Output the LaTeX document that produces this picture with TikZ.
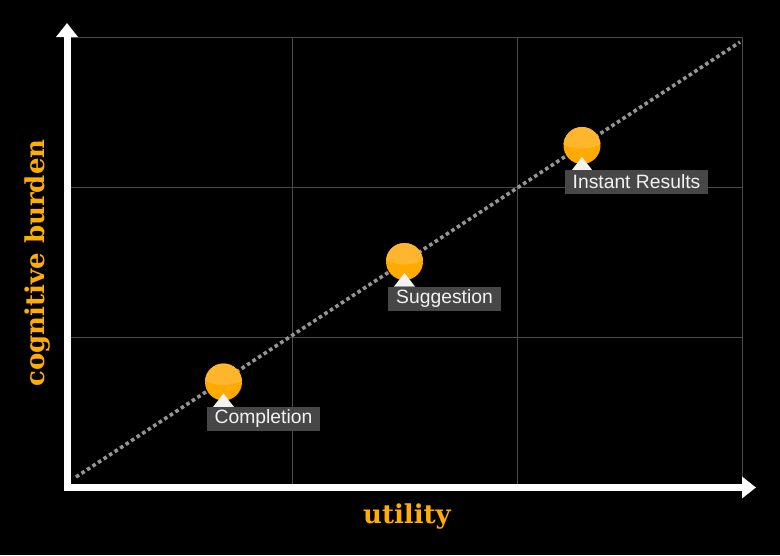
\documentclass[tikz,border=0pt]{standalone}
\usepackage{fontspec}
\usetikzlibrary{arrows.meta,calc}
\newfontfamily\labfont{Liberation Sans}
\newfontfamily\slabfont{DejaVu Serif}
\definecolor{gridc}{HTML}{4A4A4A}
\definecolor{dotc}{HTML}{959595}
\definecolor{orbc}{HTML}{FFAA00}
\definecolor{orbhi}{HTML}{FFB62C}
\definecolor{boxc}{HTML}{474747}
\definecolor{labt}{HTML}{F2F2F2}
\definecolor{axc}{HTML}{FFAE00}
\tikzset{
  gridline/.style={draw=gridc, line width=0.9pt},
  axisline/.style={draw=white, line width=7pt, -{Triangle[width=21pt,length=14pt]}},
  trend/.style={draw=dotc, line width=3.6pt, dash pattern=on 3.6pt off 3pt},
  orb/.style={circle, fill=orbc, minimum size=37pt, inner sep=0pt},
  pointer/.style={fill=labt},
  tag/.style={fill=boxc, text=labt, font=\labfont\fontsize{19.3}{21}\selectfont, minimum height=24pt, inner xsep=8pt, inner ysep=0pt},
  axlabel/.style={text=axc, font=\slabfont\bfseries\fontsize{26}{30}\selectfont}
}
\begin{document}
\begin{tikzpicture}[x=1pt,y=-1pt]
\fill[black] (0,0) rectangle (780,555);
\useasboundingbox (0,0) rectangle (780,555);
% grid
\foreach \gx in {292,517,742} \draw[gridline] (\gx,37) -- (\gx,487);
\foreach \gy in {37,187,337} \draw[gridline] (67,\gy) -- (742,\gy);
% trend line
\coordinate (t0) at (76,477);
\coordinate (t1) at (740,42);
\draw[trend] (t0) -- (t1);
% axes
\coordinate (yb) at (67,491);
\coordinate (yt) at (67,23);
\coordinate (xl) at (63.5,487.5);
\coordinate (xr) at (756,487.5);
\draw[axisline] (yb) -- (yt);
\draw[axisline] (xl) -- (xr);
% points
\foreach \n/\cx/\cy in {c1/223.5/382, c2/404.5/261.5, c3/582/145.5}{
  \node[orb] (\n) at (\cx,\cy) {};
  \begin{scope}
    \clip (\cx,\cy) circle (18.5);
    \fill[orbhi] (\cx,\cy-10) ellipse (25 and 13);
  \end{scope}
  \fill[pointer] ($(\n.center)+(0,11.5)$) -- ($(\n.center)+(-10.5,25)$) -- ($(\n.center)+(10.5,25)$) -- cycle;
}
\node[tag] (l1) at (263.5,419) {Completion};
\node[tag] (l2) at (444.5,299) {Suggestion};
\node[tag] (l3) at (636.5,182) {Instant Results};
% axis labels
\node[axlabel] (xlab) at (407,517) {utility};
\node[axlabel, rotate=90] (ylab) at (38,263) {cognitive burden};
\end{tikzpicture}
\end{document}
